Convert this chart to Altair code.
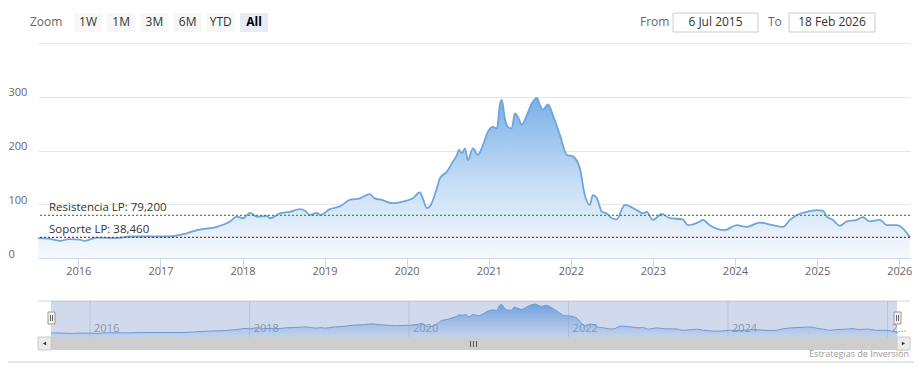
import altair as alt
import pandas as pd

# ---------------- data ----------------
dates = [
    "2015-07-06", "2015-08-20", "2015-10-12", "2015-11-20", "2016-01-08", "2016-01-30",
    "2016-03-24", "2016-06-21", "2016-08-18", "2016-11-15", "2017-02-12", "2017-04-28",
    "2017-06-12", "2017-09-09", "2017-11-06", "2017-12-07", "2018-01-03", "2018-02-03",
    "2018-03-06", "2018-04-20", "2018-05-03", "2018-06-17", "2018-07-31", "2018-09-13",
    "2018-10-06", "2018-10-28", "2018-11-28", "2018-12-12", "2019-01-25", "2019-03-10",
    "2019-04-23", "2019-06-07", "2019-07-21", "2019-08-12", "2019-09-12", "2019-10-31",
    "2019-12-15", "2020-01-29", "2020-02-29", "2020-03-13", "2020-03-31", "2020-04-14",
    "2020-05-15", "2020-05-28", "2020-06-29", "2020-07-21", "2020-08-12", "2020-08-21",
    "2020-09-03", "2020-09-17", "2020-09-30", "2020-10-22", "2020-11-13", "2020-12-06",
    "2020-12-28", "2021-01-19", "2021-02-06", "2021-02-19", "2021-02-28", "2021-03-13",
    "2021-03-27", "2021-04-13", "2021-04-27", "2021-05-10", "2021-05-28", "2021-06-19",
    "2021-07-12", "2021-08-03", "2021-08-16", "2021-08-30", "2021-09-21", "2021-10-13",
    "2021-11-13", "2021-12-14", "2022-01-10", "2022-02-10", "2022-03-04", "2022-03-26",
    "2022-04-09", "2022-04-27", "2022-05-19", "2022-06-10", "2022-07-02", "2022-07-24",
    "2022-08-29", "2022-09-21", "2022-10-22", "2022-11-17", "2022-12-05", "2023-01-01",
    "2023-02-10", "2023-03-17", "2023-05-14", "2023-06-05", "2023-07-29", "2023-08-11",
    "2023-09-11", "2023-11-16", "2024-01-09", "2024-02-23", "2024-04-21", "2024-06-18",
    "2024-08-02", "2024-09-02", "2024-10-03", "2024-11-17", "2024-12-31", "2025-01-26",
    "2025-02-13", "2025-03-11", "2025-04-12", "2025-05-13", "2025-06-27", "2025-07-23",
    "2025-08-23", "2025-10-07", "2025-11-07", "2025-12-22", "2026-01-17", "2026-02-18",
]
values = [
    37, 36, 32, 35, 34, 32,
    38, 37, 40, 40, 40, 46,
    52, 58, 68, 77, 74, 84,
    77, 78, 74, 83, 86, 91,
    88, 80, 84, 80, 91, 96,
    108, 111, 119, 111, 108, 102,
    105, 111, 122, 111, 93, 96,
    130, 148, 161, 176, 192, 201,
    195, 204, 182, 204, 192, 210,
    235, 244, 241, 285, 294, 260,
    244, 241, 269, 263, 248, 266,
    288, 298, 285, 276, 286, 266,
    229, 192, 189, 167, 117, 99,
    117, 111, 86, 83, 74, 72,
    99, 96, 89, 83, 86, 71,
    82, 74, 72, 61, 68, 71,
    61, 52, 61, 58, 66, 61,
    58, 71, 80, 86, 89, 88,
    77, 71, 60, 68, 71, 76,
    68, 71, 61, 61, 55, 38,
]
level_labels = ["Resistencia LP: 79,200", "Soporte LP: 38,460"]
level_values = [79.2, 38.46]
y_ticks = [0, 100, 200, 300, 400]
x_tick_years = [2016, 2017, 2018, 2019, 2020, 2021, 2022, 2023, 2024, 2025, 2026]
nav_tick_years = [2016, 2018, 2020, 2022, 2024]
nav_last_year = [2026]
zoom_buttons = ["1W", "1M", "3M", "6M", "YTD", "All"]
selected_button = "All"
from_text = "6 Jul 2015"
to_text = "18 Feb 2026"
credits_text = "Estrategias de Inversión"

FONT = "Open Sans"

df = pd.DataFrame({"date": pd.to_datetime(dates), "value": values})
levels = pd.DataFrame({"label": level_labels, "value": level_values})
nav_ticks = pd.DataFrame({"date": pd.to_datetime([f"{y}-01-01" for y in nav_tick_years])})
nav_ticks["label"] = [str(y) for y in nav_tick_years]
nav_last = pd.DataFrame({"date": pd.to_datetime([f"{y}-01-01" for y in nav_last_year]),
                         "label": [str(y) for y in nav_last_year]})
dummy = pd.DataFrame({"k": [0]})

start = alt.DateTime(year=2015, month=7, date=6)
end = alt.DateTime(year=2026, month=2, date=18)

# ---------------- main plot ----------------
x_main = alt.X(
    "date:T",
    scale=alt.Scale(domain=[start, end]),
    axis=alt.Axis(
        values=[alt.DateTime(year=y, month=1, date=1) for y in x_tick_years],
        format="%Y", labelOverlap=False, grid=False, title=None,
        domainColor="#ccd6eb", tickColor="#ccd6eb", tickSize=10,
        labelColor="#666666", labelFontSize=11, labelFont=FONT, labelPadding=-3,
        labelFlush=False,
    ),
)
y_main = alt.Y(
    "value:Q",
    scale=alt.Scale(domain=[0, 400], nice=False),
    axis=alt.Axis(
        values=y_ticks, grid=True, gridColor="#e6e6e6", domain=False, ticks=False,
        tickSize=0, labelAlign="left", labelPadding=30, labelBaseline="alphabetic",
        labelOffset=-1, labelColor="#666666", labelFontSize=11, labelFont=FONT,
        labelExpr="datum.value == 400 ? '' : datum.label", title=None,
    ),
)

grad_main = alt.Gradient(
    gradient="linear", x1=1, x2=1, y1=1, y2=0,
    stops=[alt.GradientStop(color="#f6f9fd", offset=0),
           alt.GradientStop(color="#c9dff5", offset=0.45),
           alt.GradientStop(color="#79b0e8", offset=1)],
)

area = alt.Chart(df).mark_area(color=grad_main, interpolate="monotone").encode(x=x_main, y=y_main)
line = alt.Chart(df).mark_line(color="#6fa5da", strokeWidth=1.8,
                               interpolate="monotone").encode(x=x_main, y=y_main)

rule_colors = ["#2fa02f", "#a82a44"]
rules = []
for i in range(len(level_values)):
    rules.append(
        alt.Chart(levels.iloc[[i]]).mark_rule(
            stroke=rule_colors[i], color=rule_colors[i], strokeDash=[2, 2], strokeWidth=1.2,
            opacity=1)
        .encode(y=y_main)
    )
level_text = alt.Chart(levels).mark_text(
    align="left", baseline="alphabetic", dy=-4, fontSize=11.5, font=FONT, color="#333333"
).encode(x=alt.value(11), y=y_main, text="label:N")

main = alt.layer(area, line, *rules, level_text)

# ---------------- navigator ----------------
nav_scale_x = alt.Scale(domain=[start, end], range=[13, 860])
nav_x = alt.X("date:T", scale=nav_scale_x, axis=None)
nav_y = alt.Y("value:Q", scale=alt.Scale(domain=[0, 325], range=[294, 258], nice=False), axis=None)

grad_nav = alt.Gradient(
    gradient="linear", x1=1, x2=1, y1=1, y2=0,
    stops=[alt.GradientStop(color="rgba(124,181,236,0.15)", offset=0),
           alt.GradientStop(color="rgba(110,168,230,0.95)", offset=1)],
)
nav_grid = alt.Chart(nav_ticks).mark_rule(color="#e0e0e0", strokeWidth=1).encode(
    x=alt.X("date:T", scale=nav_scale_x, axis=None), y=alt.value(258), y2=alt.value(294))
nav_grid_last = alt.Chart(nav_last).mark_rule(color="#e0e0e0", strokeWidth=1).encode(
    x=alt.X("date:T", scale=nav_scale_x, axis=None), y=alt.value(258), y2=alt.value(294))
nav_lab = alt.Chart(nav_ticks).mark_text(
    align="left", baseline="middle", dx=4, fontSize=11, font=FONT, color="#999999"
).encode(x=alt.X("date:T", scale=nav_scale_x, axis=None), y=alt.value(286), text="label:N")
nav_lab_last = alt.Chart(nav_last).mark_text(
    align="left", baseline="middle", dx=4, fontSize=11, font=FONT, color="#999999", limit=17
).encode(x=alt.X("date:T", scale=nav_scale_x, axis=None), y=alt.value(286), text="label:N")
nav_area = alt.Chart(df).mark_area(color=grad_nav, interpolate="monotone").encode(x=nav_x, y=nav_y)
nav_line = alt.Chart(df).mark_line(color="#6fa5da", strokeWidth=1, interpolate="monotone").encode(x=nav_x, y=nav_y)


def box(x, x2, y, y2, fill, stroke=None, sw=1):
    kw = dict(fill=fill)
    if stroke is not None:
        kw.update(stroke=stroke, strokeWidth=sw)
    return alt.Chart(dummy).mark_rect(**kw).encode(
        x=alt.value(x), x2=alt.value(x2), y=alt.value(y), y2=alt.value(y2))


def seg(x, x2, y, y2, color, sw=1):
    return alt.Chart(dummy).mark_rule(color=color, strokeWidth=sw).encode(
        x=alt.value(x), x2=alt.value(x2), y=alt.value(y), y2=alt.value(y2))


def label(x, y, text, size=12, color="#333333", align="center", weight="normal"):
    return alt.Chart(dummy).mark_text(
        text=text, fontSize=size, color=color, align=align, baseline="middle",
        font=FONT, fontWeight=weight).encode(x=alt.value(x), y=alt.value(y))


nav_top = seg(0, 872, 258, 258, "#d6d6d6")
mask = box(13, 859, 258, 294, "rgba(102,133,194,0.3)")
handles = [
    box(10, 17, 269, 281, "#f2f2f2", "#999999"),
    seg(12.5, 12.5, 272, 278, "#666666"), seg(14.5, 14.5, 272, 278, "#666666"),
    box(856, 863, 269, 281, "#f2f2f2", "#999999"),
    seg(858.5, 858.5, 272, 278, "#666666"), seg(860.5, 860.5, 272, 278, "#666666"),
]
scroll = [
    box(13, 859, 294, 307, "#cdcdcd"),
    box(0, 13, 294, 307, "#ebebeb", "#cccccc"),
    box(859, 872, 294, 307, "#ebebeb", "#cccccc"),
    seg(432.5, 432.5, 298, 304, "#555555"), seg(435.5, 435.5, 298, 304, "#555555"),
    seg(438.5, 438.5, 298, 304, "#555555"),
    alt.Chart(dummy).mark_point(shape="triangle-left", filled=True, color="#333333", size=14, opacity=1)
    .encode(x=alt.value(6.5), y=alt.value(300.5)),
    alt.Chart(dummy).mark_point(shape="triangle-right", filled=True, color="#333333", size=14, opacity=1)
    .encode(x=alt.value(865.5), y=alt.value(300.5)),
]

nav = alt.layer(nav_grid, nav_grid_last, nav_lab, nav_lab_last, nav_area, nav_line)

# ---------------- toolbar & chrome ----------------
chrome_layers = [label(-8, -21.5, "Zoom", color="#666666", align="left")]
for i, b in enumerate(zoom_buttons):
    x0 = 36 + i * 33.2
    sel = b == selected_button
    chrome_layers.append(box(x0, x0 + 28, -30, -11, "#e6ebf5" if sel else "#f7f7f7"))
    chrome_layers.append(label(x0 + 14, -21.5, b, color="#000000" if sel else "#333333",
                               weight="bold" if sel else "normal"))
chrome_layers += [
    label(602, -21.5, "From", color="#666666", align="left"),
    box(635, 720, -30, -11, "#ffffff", "#cccccc"),
    label(677.5, -21.5, from_text),
    label(730, -21.5, "To", color="#666666", align="left"),
    box(751, 837, -30, -11, "#ffffff", "#cccccc"),
    label(794, -21.5, to_text),
    seg(-30, 876, 319, 319, "#cccccc"),
    label(871, 311, credits_text, size=9, color="#999999", align="right"),
]

chart = alt.layer(
    main, nav, nav_top, mask, *handles, *scroll, *chrome_layers
).resolve_scale(x="independent", y="independent").properties(
    width=872, height=215,
    padding={"left": 30, "top": 35, "right": 4, "bottom": 105},
    autosize=alt.AutoSizeParams(type="none"),
    background="#ffffff",
).configure_view(stroke=None)

chart.save("out.html", embed_options={"renderer": "svg", "actions": False})
